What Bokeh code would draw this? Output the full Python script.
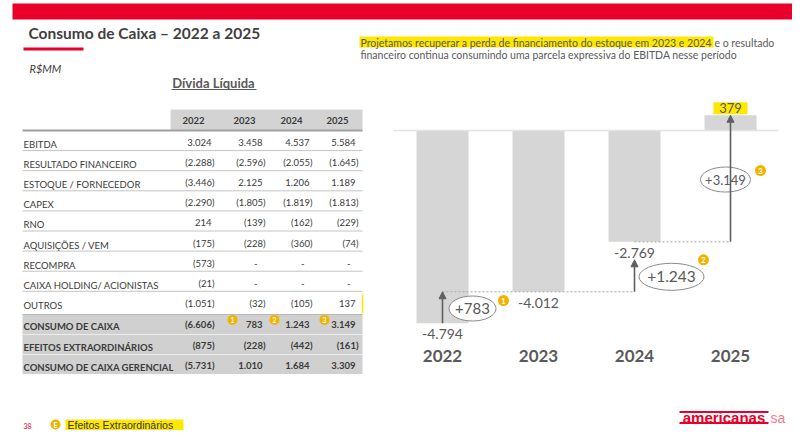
from bokeh.plotting import figure
from bokeh.models import Range1d, Arrow, NormalHead, ColumnDataSource
from bokeh.core.properties import value
from bokeh.embed import file_html
from bokeh.resources import INLINE

# ---------------- data ----------------
years = [2022, 2023, 2024, 2025]
cash_position = [-4794, -4012, -2769, 379]          # Dívida líquida acumulada (R$MM)
delta_years = [2022, 2024, 2025]                    # where each step arrow is drawn
deltas = [783, 1243, 3149]
delta_badges = ["1", "2", "3"]

table_years = ["2022", "2023", "2024", "2025"]
row_labels = ["EBITDA", "RESULTADO FINANCEIRO", "ESTOQUE / FORNECEDOR", "CAPEX", "RNO",
              "AQUISIÇÕES / VEM", "RECOMPRA", "CAIXA HOLDING/ ACIONISTAS", "OUTROS",
              "CONSUMO DE CAIXA", "EFEITOS EXTRAORDINÁRIOS", "CONSUMO DE CAIXA GERENCIAL"]
val_2022 = [3024, -2288, -3446, -2290, 214, -175, -573, -21, -1051, -6606, -875, -5731]
val_2023 = [3458, -2596, 2125, -1805, -139, -228, None, None, -32, 783, -228, 1010]
val_2024 = [4537, -2055, 1206, -1819, -162, -360, None, None, -105, 1243, -442, 1684]
val_2025 = [5584, -1645, 1189, -1813, -229, -74, None, None, 137, 3149, -161, 3309]
bold_rows = ["CONSUMO DE CAIXA", "EFEITOS EXTRAORDINÁRIOS", "CONSUMO DE CAIXA GERENCIAL"]
table_badges = {"CONSUMO DE CAIXA": ["", "1", "2", "3"]}

title = "Consumo de Caixa – 2022 a 2025"
unit = "R$MM"
subtitle = "Dívida Líquida"
note_hi = "Projetamos recuperar a perda de financiamento do estoque em 2023 e 2024"
note_rest1 = " e o resultado"
note_line2 = "financeiro continua consumindo uma parcela expressiva do EBITDA nesse período"
legend_text = "Efeitos Extraordinários"
page_no = "38"

# ---------------- helpers ----------------
def thou(v):
    return f"{abs(v):,}".replace(",", ".")

def fmt_table(v):
    if v is None:
        return "-"
    return f"({thou(v)})" if v < 0 else thou(v)

def fmt_signed(v):
    return ("-" if v < 0 else "") + thou(v)

FONT = value("Lato")
RED = "#e8002b"
YEL = "#ffe800"
GOLD = "#f2b300"
TXT = "#3a3a3a"
GREY_TXT = "#595959"

W, H = 792, 430
FX0, FX1 = 0, 792        # slide x covered by the canvas
FY0, FY1 = 4, 434        # slide y covered by the canvas
p = figure(width=W, height=H, x_range=Range1d(FX0, FX1), y_range=Range1d(FY1, FY0),
           output_backend="svg", toolbar_location=None, min_border=0,
           x_axis_location=None, y_axis_location=None)
p.outline_line_color = None
p.background_fill_color = "white"
p.border_fill_color = "white"
p.xgrid.visible = False
p.ygrid.visible = False

# ---------------- slide decorations ----------------
p.quad(left=[12], right=[800], top=[7], bottom=[23], fill_color=RED, line_color=None)
p.text(x=[28], y=[36], text=[title], text_font=FONT, text_font_size="15.5px",
       text_font_style="bold", text_color="#404040", text_baseline="middle")
p.quad(left=[23], right=[83], top=[51], bottom=[54], fill_color=RED, line_color=None)
p.text(x=[29], y=[72], text=[unit], text_font=FONT, text_font_size="11px",
       text_font_style="italic", text_color=TXT, text_baseline="middle")
p.text(x=[213], y=[86], text=[subtitle], text_font=FONT, text_font_size="13px",
       text_font_style="bold", text_color=GREY_TXT, text_baseline="middle", text_align="center")
p.segment(x0=[171], x1=[256], y0=[93], y1=[93], line_color=GREY_TXT, line_width=1)

# note text top-right
p.quad(left=[359], right=[713], top=[40], bottom=[51], fill_color=YEL, line_color=None)
p.text(x=[360], y=[46], text=[note_hi], text_font=FONT, text_font_size="10.5px",
       text_color="#5a5a5a", text_baseline="middle")
p.text(x=[714], y=[46], text=[note_rest1], text_font=FONT, text_font_size="10.5px",
       text_color="#5a5a5a", text_baseline="middle")
p.text(x=[360], y=[58], text=[note_line2], text_font=FONT, text_font_size="10.5px",
       text_color="#5a5a5a", text_baseline="middle")

# footer
p.text(x=[23], y=[429], text=[page_no], text_font=FONT, text_font_size="7px",
       text_color=RED, text_baseline="middle")
p.scatter(x=[55], y=[428], size=10, marker="circle", fill_color=GOLD, line_color=None)
p.text(x=[55], y=[428.5], text=["E"], text_font=FONT, text_font_size="7px", text_font_style="bold",
       text_color="white", text_baseline="middle", text_align="center")
p.quad(left=[65], right=[183], top=[423], bottom=[434], fill_color=YEL, line_color=None)
p.text(x=[67], y=[428.5], text=[legend_text], text_font=value("Liberation Sans"),
       text_font_size="10.5px", text_color="#333333", text_baseline="middle")

# logo
p.quad(left=[679], right=[768], top=[414.5], bottom=[416.5], fill_color=RED, line_color=None)
p.quad(left=[679], right=[768], top=[425.5], bottom=[427.5], fill_color=RED, line_color=None)
p.text(x=[723.5], y=[421], text=["americanas"], text_font=value("Liberation Sans"),
       text_font_size="15px", text_font_style="bold", text_color=RED,
       text_baseline="middle", text_align="center")
p.text(x=[770], y=[421], text=["sa"], text_font=value("Liberation Sans"),
       text_font_size="14px", text_color="#f07d8c", text_baseline="middle")

# ---------------- table ----------------
COL_R = [214, 265, 312, 358]
TL, TR = 22, 362
ROW_STEP = 20.1
n_rows = len(row_labels)
row_y = [148 + ROW_STEP * i + (1.5 if row_labels[i] in bold_rows else 0) for i in range(n_rows)]
first_bold = row_labels.index(bold_rows[0])

# header
p.quad(left=[170], right=[TR], top=[113], bottom=[134], fill_color="#d3d3d3", line_color=None)
p.text(x=[c - 21 for c in COL_R], y=[124] * 4, text=table_years, text_font=FONT,
       text_font_size="9.5px", text_font_style="bold", text_color=TXT,
       text_baseline="middle", text_align="center")
# grey block for totals
p.quad(left=[TL], right=[TR], top=[318], bottom=[377.5], fill_color="#d0d0d0", line_color=None)
sep_y = [154.1 + ROW_STEP * i for i in range(first_bold - 1)]
p.segment(x0=[TL] * len(sep_y), x1=[TR] * len(sep_y), y0=sep_y, y1=sep_y,
          line_color="#c4c4c4", line_width=1)
p.segment(x0=[TL, TL], x1=[TR, TR], y0=[338, 358], y1=[338, 358], line_color="#ececec", line_width=1)
p.segment(x0=[TL], x1=[TR], y0=[134], y1=[134], line_color="#a0a0a0", line_width=2)
p.segment(x0=[TL], x1=[TR], y0=[318], y1=[318], line_color="#b8b8b8", line_width=1)
p.segment(x0=[TR], x1=[TR], y0=[298], y1=[317], line_color=YEL, line_width=1.5)

normal_idx = [i for i in range(n_rows) if row_labels[i] not in bold_rows]
bold_idx = [i for i in range(n_rows) if row_labels[i] in bold_rows]
for idx, style in ((normal_idx, "normal"), (bold_idx, "bold")):
    p.text(x=[23] * len(idx), y=[row_y[i] for i in idx], text=[row_labels[i] for i in idx],
           text_font=FONT, text_font_size="9.5px", text_font_style=style, text_color=TXT,
           text_baseline="middle")
    xs, ys, ts = [], [], []
    for j, col in enumerate((val_2022, val_2023, val_2024, val_2025)):
        for i in idx:
            v = col[i]
            off = 8 if v is None else (3 if v >= 0 else 0)
            xs.append(COL_R[j] - off)
            ys.append(row_y[i] - 2)
            ts.append(fmt_table(v))
    p.text(x=xs, y=ys, text=ts, text_font=FONT, text_font_size="9.5px", text_font_style=style,
           text_color=TXT, text_baseline="middle", text_align="right")

# table badges
badge_off = [0, 33, 38, 34]
for lab, marks in table_badges.items():
    i = row_labels.index(lab)
    bx = [COL_R[j] - badge_off[j] for j in range(4) if marks[j]]
    bt = [m for m in marks if m]
    by = [row_y[i] - 7] * len(bx)
    p.scatter(x=bx, y=by, size=10, marker="circle", fill_color=GOLD, line_color=None)
    p.text(x=bx, y=[b + 0.5 for b in by], text=bt, text_font=FONT, text_font_size="7px",
           text_font_style="bold", text_color="white", text_baseline="middle", text_align="center")

# ---------------- waterfall ----------------
K = 0.0402          # px per R$MM
ZERO_Y = 134        # slide y of zero line
X0, STEP = 442, 96  # slide x of first year, spacing
p.extra_x_ranges = {"wf": Range1d(years[0] - (X0 - FX0) / STEP, years[0] + (FX1 - X0) / STEP)}
p.extra_y_ranges = {"wf": Range1d(-(FY1 - ZERO_Y) / K, (ZERO_Y - FY0) / K)}
wf = dict(x_range_name="wf", y_range_name="wf")

def px(n):
    return n / K

p.vbar(x=years, top=cash_position, bottom=0, width=52 / STEP, fill_color="#d6d6d6",
       line_color=None, **wf)
p.segment(x0=[years[0] - 0.51], x1=[years[-1] + 0.5], y0=[0], y1=[0],
          line_color="#e2e2e2", line_width=1.5, **wf)

# dotted connectors
cy = cash_position[1:-1]
p.segment(x0=delta_years[:-1], x1=delta_years[1:], y0=cy, y1=cy,
          line_color="#a8a8a8", line_dash="2 2", line_width=1, **wf)

# arrows
ys0 = cash_position[:-1]
ys1 = []
for i in range(len(deltas)):
    tgt = cash_position[i + 1]
    gap = px(18) if (delta_years[i] == years[i + 1] and tgt < 0) else 0
    ys1.append(tgt - gap)
arr_src = ColumnDataSource(dict(x=delta_years, y0=ys0, y1=ys1))
p.add_layout(Arrow(end=NormalHead(size=7, fill_color="#5f5f5f", line_color="#5f5f5f"),
                   source=arr_src, x_start="x", y_start="y0", x_end="x", y_end="y1",
                   line_color="#5f5f5f", line_width=1.6, **wf))

# bar value labels
lab_y = [c - px(11) if c < 0 else c + px(7) for c in cash_position]
neg = [i for i, c in enumerate(cash_position) if c < 0]
pos = [i for i, c in enumerate(cash_position) if c >= 0]
p.text(x=[years[i] for i in neg], y=[lab_y[i] for i in neg],
       text=[fmt_signed(cash_position[i]) for i in neg], text_font=FONT, text_font_size="14px",
       text_color=GREY_TXT, text_baseline="middle", text_align="center", **wf)
p.quad(left=[years[i] - 17 / STEP for i in pos], right=[years[i] + 17 / STEP for i in pos],
       bottom=[cash_position[i] + px(1) for i in pos], top=[cash_position[i] + px(13) for i in pos],
       fill_color=YEL, line_color=None, **wf)
p.text(x=[years[i] for i in pos], y=[lab_y[i] for i in pos],
       text=[fmt_signed(cash_position[i]) for i in pos], text_font=FONT, text_font_size="13px",
       text_color=GREY_TXT, text_baseline="middle", text_align="center", **wf)

# year labels
p.text(x=years, y=[-px(359 - ZERO_Y)] * len(years), text=[str(y) for y in years], text_font=FONT,
       text_font_size="17px", text_font_style="bold", text_color=GREY_TXT,
       text_baseline="middle", text_align="center", **wf)

# delta ellipses
ell_dx = [30, 37, -5]
ell_w = [47, 65, 50]
ell_h = [25, 27, 25]
ell_fs = ["15px", "15.5px", "13px"]
ex = [delta_years[i] + ell_dx[i] / STEP for i in range(len(deltas))]
ey = [(ys0[i] + ys1[i]) / 2 - px(1) for i in range(len(deltas))]
p.ellipse(x=ex, y=ey, width=ell_w, height=ell_h, width_units="screen", height_units="screen",
          fill_color="white", line_color="#8a8a8a", line_width=1, **wf)
d_src = ColumnDataSource(dict(x=ex, y=ey, t=["+" + thou(d) for d in deltas], fs=ell_fs))
p.text(x="x", y="y", text="t", source=d_src, text_font=FONT, text_font_size="fs",
       text_color=GREY_TXT, text_baseline="middle", text_align="center", **wf)

# numbered badges
b_dx = [31, 32, 35]
b_dy = [-8, -17, -9]
bx = [ex[i] + b_dx[i] / STEP for i in range(len(deltas))]
by = [ey[i] - px(b_dy[i]) for i in range(len(deltas))]
p.scatter(x=bx, y=by, size=11, marker="circle", fill_color=GOLD, line_color=None, **wf)
p.text(x=bx, y=[b - px(0.5) for b in by], text=delta_badges, text_font=FONT, text_font_size="7.5px",
       text_font_style="bold", text_color="white", text_baseline="middle", text_align="center", **wf)

open("out.html", "w").write(file_html(p, INLINE))
